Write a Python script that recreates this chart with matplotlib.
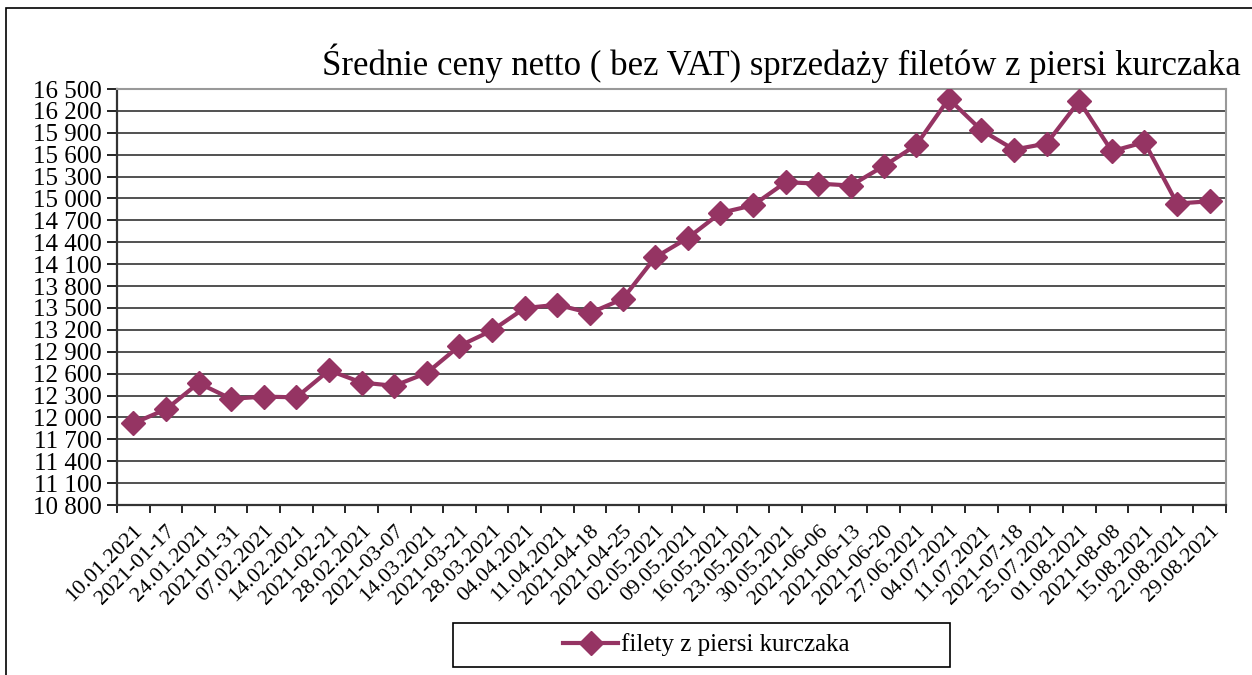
import matplotlib.pyplot as plt
from matplotlib.patches import Rectangle
from matplotlib.ticker import FuncFormatter

plt.rcParams['font.family'] = ['Liberation Serif', 'DejaVu Serif']

# Data
dates = ['10.01.2021', '2021-01-17', '24.01.2021', '2021-01-31', '07.02.2021',
         '14.02.2021', '2021-02-21', '28.02.2021', '2021-03-07', '14.03.2021',
         '2021-03-21', '28.03.2021', '04.04.2021', '11.04.2021', '2021-04-18',
         '2021-04-25', '02.05.2021', '09.05.2021', '16.05.2021', '23.05.2021',
         '30.05.2021', '2021-06-06', '2021-06-13', '2021-06-20', '27.06.2021',
         '04.07.2021', '11.07.2021', '2021-07-18', '25.07.2021', '01.08.2021',
         '2021-08-08', '15.08.2021', '22.08.2021', '29.08.2021']
prices = [11920, 12110, 12470, 12255, 12285, 12275, 12645, 12478, 12433, 12610,
          12980, 13192, 13498, 13544, 13430, 13622, 14193, 14459, 14802, 14907,
          15222, 15204, 15177, 15442, 15730, 16366, 15936, 15670, 15753, 16334,
          15648, 15771, 14930, 14962]
series_name = 'filety z piersi kurczaka'
title = 'Średnie ceny netto ( bez VAT) sprzedaży filetów z piersi kurczaka'
color = '#953463'

fig = plt.figure(figsize=(12.52, 6.75), dpi=100)
ax = fig.add_axes([117 / 1252, 1 - 505 / 675, (1226 - 117) / 1252, (505 - 89) / 675])

x = list(range(len(dates)))
line, = ax.plot(x, prices, color=color, lw=3, marker='D', markersize=12,
                label=series_name, zorder=3)

# y axis
ax.set_ylim(10800, 16500)
ax.set_yticks(range(10800, 16501, 300))
ax.yaxis.set_major_formatter(FuncFormatter(lambda v, p: f'{int(v):,}'.replace(',', ' ')))
ax.grid(axis='y', color='#222222', lw=1.1)
ax.set_axisbelow(True)

# x axis: categories, ticks between them
ax.set_xlim(-0.5, len(dates) - 0.5)
ax.set_xticks([i - 0.5 for i in range(len(dates) + 1)])
ax.set_xticklabels([])
ax.set_xticks(x, minor=True)
ax.set_xticklabels(dates, minor=True, rotation=45, ha='right', va='top',
                   rotation_mode='anchor', fontsize=16)
ax.tick_params(axis='x', which='minor', length=0, pad=12)
ax.tick_params(axis='x', which='major', length=6, direction='out', width=1.2)
ax.tick_params(axis='y', length=7, direction='out', width=1.2, labelsize=18, pad=4)

for s in ['left', 'bottom']:
    ax.spines[s].set_color('#333333')
    ax.spines[s].set_linewidth(1.6)
for s in ['top', 'right']:
    ax.spines[s].set_color('#999999')
    ax.spines[s].set_linewidth(1.5)

fig.text(781 / 1252, 1 - 75 / 675, title, ha='center', va='baseline', fontsize=25)

# legend with a wide box drawn separately
fig.patches.append(Rectangle((453 / 1252, 1 - 667 / 675), (950 - 453) / 1252, 44 / 675,
                             transform=fig.transFigure, fill=False,
                             edgecolor='black', lw=1.2))
fig.legend(handles=[line], loc='center', bbox_to_anchor=(706 / 1252, 1 - 645 / 675),
           frameon=False, fontsize=18, handlelength=2.2, handletextpad=0.1,
           borderpad=0)

# outer chart border
fig.patches.append(Rectangle((6 / 1252, -0.05), 1.1, 1 - 8 / 675 + 0.05,
                             transform=fig.transFigure, fill=False,
                             edgecolor='black', lw=1.2))

fig.savefig('out.png', dpi=100)
